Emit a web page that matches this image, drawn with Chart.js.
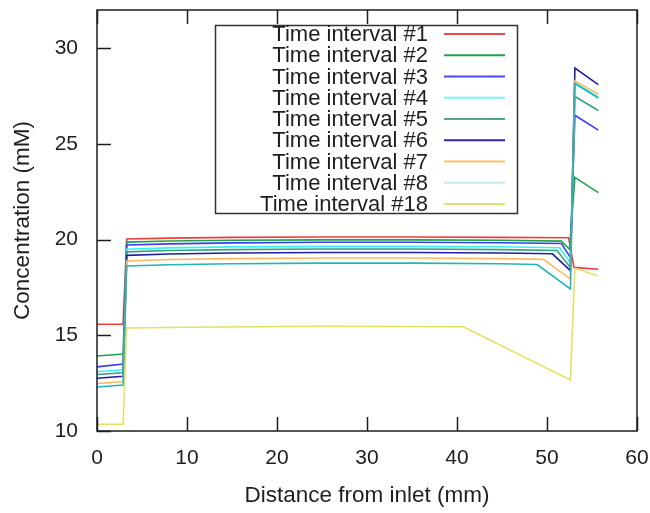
<!DOCTYPE html>
<html>
<head>
<meta charset="utf-8">
<title>Concentration profile</title>
<script src="https://cdn.jsdelivr.net/npm/chart.js@4.4.1/dist/chart.umd.min.js"></script>
<style>
  html, body { margin: 0; padding: 0; background: #fff; }
  #chart { display: block; }
</style>
</head>
<body>
<canvas id="chart" width="650" height="513"></canvas>
<script>
// Concentration (mM) vs distance from inlet (mm), one profile per time interval
const seriesLabels = [
  "Time interval #1", "Time interval #2", "Time interval #3",
  "Time interval #4", "Time interval #5", "Time interval #6",
  "Time interval #7", "Time interval #8", "Time interval #18"
];

// [distance, concentration] pairs
const interval1 = [[0, 15.58], [2.9, 15.58], [3.3, 20.03], [8, 20.08], [15, 20.12], [25, 20.14], [35, 20.14], [45, 20.12], [52.4, 20.1], [53.0, 18.55], [55.7, 18.45]];
const interval2 = [[0, 13.92], [2.9, 14.02], [3.3, 19.87], [8, 19.93], [15, 19.97], [25, 19.99], [35, 19.99], [45, 19.97], [51.6, 19.92], [52.5, 19.5], [53.1, 23.25], [55.7, 22.46]];
const interval3 = [[0, 13.35], [2.9, 13.5], [3.3, 19.72], [8, 19.78], [15, 19.83], [25, 19.86], [35, 19.86], [45, 19.84], [51.6, 19.8], [52.6, 19.07], [53.1, 26.5], [55.7, 25.72]];
const interval4 = [[0, 13.1], [2.9, 13.2], [3.3, 19.5], [8, 19.57], [15, 19.62], [25, 19.65], [35, 19.65], [45, 19.63], [51.4, 19.58], [52.6, 18.8], [53.1, 28.22], [55.7, 27.45]];
const interval5 = [[0, 12.95], [2.9, 13.04], [3.3, 19.36], [8, 19.43], [15, 19.48], [25, 19.51], [35, 19.51], [45, 19.48], [51.1, 19.43], [52.6, 18.55], [53.1, 27.48], [55.7, 26.75]];
const interval6 = [[0, 12.76], [2.9, 12.86], [3.3, 19.18], [8, 19.25], [15, 19.3], [25, 19.33], [35, 19.33], [45, 19.3], [50.6, 19.26], [52.6, 18.38], [53.1, 28.97], [55.7, 28.1]];
const interval7 = [[0, 12.48], [2.9, 12.58], [3.3, 18.88], [8, 18.96], [15, 19.01], [25, 19.04], [35, 19.04], [45, 19.01], [49.6, 18.97], [52.6, 17.94], [53.1, 28.3], [55.7, 27.6]];
const interval8 = [[0, 12.3], [2.9, 12.4], [3.3, 18.62], [8, 18.69], [15, 18.74], [25, 18.77], [35, 18.77], [45, 18.74], [48.9, 18.7], [52.6, 17.42], [53.1, 28.15], [55.7, 27.4]];
const interval18 = [[0, 10.35], [2.9, 10.35], [3.3, 15.38], [10, 15.42], [25, 15.47], [40.7, 15.45], [52.6, 12.67], [53.1, 18.5], [55.7, 18.1]];

const seriesData = [interval1, interval2, interval3, interval4, interval5, interval6, interval7, interval8, interval18];

const xTicks = [0, 10, 20, 30, 40, 50, 60];
const yTicks = [10, 15, 20, 25, 30];

// line colours, and the (paler) swatch colours used in the key
const lineColors = ["#f03c3c", "#1aa548", "#3c3cf0", "#38f2f2", "#3aa080", "#2020a0", "#ffb860", "#22b4b8", "#e2e264"];
const keyColors = ["#f04848", "#1aa548", "#4848f0", "#70f6f6", "#50a888", "#2828a8", "#ffc070", "#c4ecf0", "#e2e270"];

const FONT = "'Liberation Sans', Arial, sans-serif";
const INK = "#1e1e1e";

// frame with inward ticks (bottom, top, left), like a gnuplot border
const framePlugin = {
  id: "frame",
  afterDatasetsDraw(chart) {
    const { ctx, chartArea: a, scales } = chart;
    const len = 14;
    ctx.save();
    ctx.strokeStyle = INK;
    ctx.lineWidth = 1.5;
    ctx.strokeRect(a.left, a.top, a.right - a.left, a.bottom - a.top);
    ctx.beginPath();
    xTicks.forEach(v => {
      const px = Math.round(scales.x.getPixelForValue(v)) + 0.5;
      ctx.moveTo(px, a.bottom); ctx.lineTo(px, a.bottom - len);
      ctx.moveTo(px, a.top); ctx.lineTo(px, a.top + len);
    });
    yTicks.forEach(v => {
      const py = Math.round(scales.y.getPixelForValue(v)) + 0.5;
      ctx.moveTo(a.left, py); ctx.lineTo(a.left + len, py);
    });
    ctx.stroke();
    ctx.restore();
  }
};

// key box: labels right-aligned, sample line to the right
const keyPlugin = {
  id: "keyBox",
  afterDraw(chart) {
    const { ctx } = chart;
    const box = { left: 215.5, top: 25.5, right: 517.5, bottom: 213.5 };
    const rowTop = 34, rowStep = 21.25;
    ctx.save();
    ctx.fillStyle = "#fff";
    ctx.fillRect(box.left, box.top, box.right - box.left, box.bottom - box.top);
    ctx.strokeStyle = "#333";
    ctx.lineWidth = 1.5;
    ctx.strokeRect(box.left, box.top, box.right - box.left, box.bottom - box.top);
    ctx.font = "22px " + FONT;
    ctx.textAlign = "right";
    ctx.textBaseline = "middle";
    chart.data.datasets.forEach((ds, i) => {
      const y = rowTop + i * rowStep;
      ctx.fillStyle = INK;
      ctx.fillText(ds.label, 428, y + 1);
      ctx.strokeStyle = keyColors[i];
      ctx.lineWidth = 1.8;
      ctx.beginPath();
      ctx.moveTo(444, y);
      ctx.lineTo(505, y);
      ctx.stroke();
    });
    ctx.restore();
  }
};

const datasets = seriesData.map((pts, i) => ({
  label: seriesLabels[i],
  data: pts.map(p => ({ x: p[0], y: p[1] })),
  borderColor: lineColors[i],
  backgroundColor: lineColors[i],
  borderWidth: 1.6,
  pointRadius: 0,
  tension: 0,
  fill: false,
  order: seriesData.length - i
}));

new Chart(document.getElementById("chart"), {
  type: "line",
  data: { datasets: datasets },
  options: {
    responsive: false,
    animation: false,
    layout: { padding: { top: 10, right: 13, left: 0, bottom: 0 } },
    plugins: {
      legend: { display: false },
      tooltip: { enabled: false }
    },
    scales: {
      x: {
        type: "linear",
        min: 0,
        max: 60,
        grid: { display: false, drawTicks: false },
        border: { display: false },
        ticks: {
          stepSize: 10,
          includeBounds: false,
          padding: 15,
          color: INK,
          font: { family: FONT, size: 21 }
        },
        title: {
          display: true,
          text: "Distance from inlet (mm)",
          color: INK,
          font: { family: FONT, size: 22.5 },
          padding: { top: 0, bottom: 4 }
        },
        afterFit(scale) {
          scale.height = 82;
          scale.paddingLeft = 0;
          scale.paddingRight = 0;
        }
      },
      y: {
        type: "linear",
        min: 10,
        max: 32,
        grid: { display: false, drawTicks: false },
        border: { display: false },
        ticks: {
          stepSize: 5,
          includeBounds: false,
          padding: 19,
          color: INK,
          font: { family: FONT, size: 21 }
        },
        title: {
          display: true,
          text: "Concentration (mM)",
          color: INK,
          font: { family: FONT, size: 22.5 },
          padding: { top: 9, bottom: 0 }
        },
        afterFit(scale) {
          scale.width = 97;
          scale.paddingTop = 0;
          scale.paddingBottom = 0;
        }
      }
    }
  },
  plugins: [framePlugin, keyPlugin]
});
</script>
</body>
</html>
